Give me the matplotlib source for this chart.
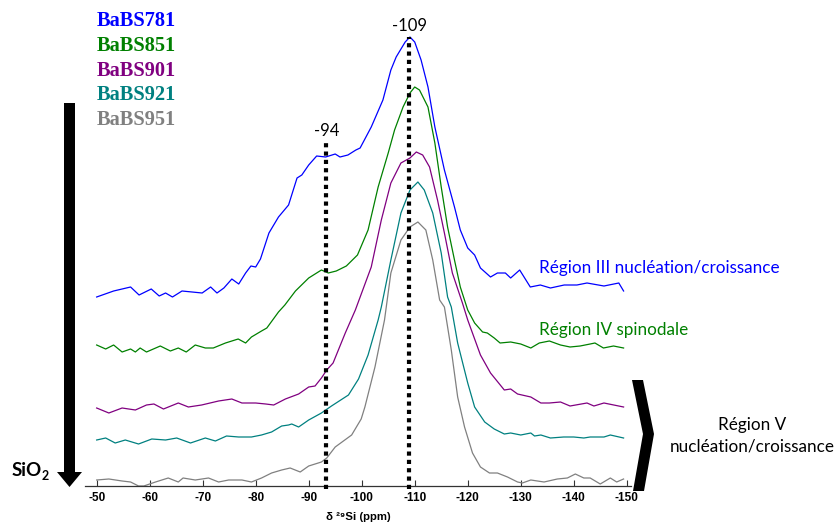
import matplotlib
matplotlib.use("Agg")
import matplotlib.pyplot as plt
from matplotlib.patches import Polygon

W, H = 837, 525

# ---------------- data (ppm, stacked intensity in arbitrary units) ----------------
ppm_781 = [-50, -53.2, -56.4, -58, -60.3, -61.8, -63, -64.3, -66.1, -68, -69.9, -71.5, -72.7, -74,
           -75.5, -76.8, -78.1, -79.1, -80, -80.9, -82.5, -84.3, -86.2, -87.8, -88.7, -90, -91.5,
           -93.2, -95, -95.9, -97.4, -98.9, -99.7, -101.8, -104, -105.5, -106.5, -108.2, -109.1,
           -110, -111.2, -112.5, -113.8, -115.6, -117.5, -118.6, -120, -121.3, -122.4, -124.3,
           -125.6, -127.1, -128.1, -129.8, -131.8, -133.7, -135.6, -138.2, -140.6, -142.5,
           -145.7, -148.5, -149.4]
int_781 = [189, 195, 199, 191, 197, 190, 193, 189, 195, 194, 193, 199, 193, 198,
           207, 202, 213, 220, 219, 227, 253, 269, 281, 308, 311, 321, 330,
           329, 332, 329, 331, 336, 338, 359, 386, 416, 429, 444, 449,
           444, 426, 399, 359, 316, 279, 256, 238, 231, 218, 209,
           213, 213, 208, 216, 199, 201, 198, 201, 201, 203,
           200, 203, 195]

ppm_851 = [-50, -51.7, -53.2, -54.8, -56.4, -57.3, -58.2, -59.4, -62, -63.9, -65.4, -66.9, -68.6,
           -70.5, -72, -74.3, -76.7, -78.1, -79.2, -81.1, -82.1, -84.3, -85.5, -87.5, -90, -92.4,
           -93.7, -95.2, -97.1, -99.2, -101.2, -103.1, -105, -106.2, -107.8, -109.1, -110, -110.9,
           -112.5, -113.8, -115, -116.2, -117.5, -118.6, -120, -121.3, -122.8, -123.7, -125,
           -126.1, -128.1, -130, -131.9, -133.5, -135.4, -137.5, -139.3, -141.2, -143.1, -144,
           -145.6, -147.5, -149.4]
int_851 = [141, 137, 141, 134, 137, 134, 138, 134, 140, 135, 138, 134, 141,
           138, 138, 143, 147, 143, 149, 155, 158, 174, 181, 195, 208, 216,
           213, 215, 220, 231, 256, 299, 333, 356, 379, 393, 399, 396,
           379, 343, 299, 259, 226, 199, 176, 163, 154, 153, 148,
           143, 144, 142, 138, 143, 145, 141, 139, 140, 142, 143,
           138, 140, 138]

ppm_901 = [-50, -52.3, -54.8, -57.3, -59.4, -60.8, -62.6, -65.4, -67.3, -69.8, -73, -75.5, -77.4,
           -80, -81.9, -83.4, -85.6, -88.1, -90, -91.2, -92.4, -93.4, -94.6, -96.9, -98.8,
           -101.8, -103.7, -105.5, -107.4, -109.1, -110.3, -111.5, -112.8, -114.3, -115.6, -117.1,
           -119, -120, -122.4, -124.3, -126.9, -128.1, -129.4, -131.9, -133.8, -135.4, -137.5,
           -139.3, -142.5, -143.8, -145.7, -149.4]
int_901 = [78, 73, 78, 76, 81, 82, 77, 83, 79, 81, 85, 87, 83,
           83, 82, 81, 87, 92, 99, 100, 108, 116, 123, 153, 176,
           219, 266, 303, 323, 328, 334, 331, 319, 286, 253, 213,
           183, 166, 131, 113, 96, 97, 92, 89, 83, 83, 84,
           80, 83, 80, 83, 79]

ppm_921 = [-50, -51.7, -53.5, -55.4, -57.9, -60.4, -63, -65.1, -67.7, -70.5, -72.4, -74.5, -76.8,
           -79.2, -81.1, -83, -84.9, -86.2, -86.8, -88.1, -90, -92.4, -94.3, -97.5, -99.4,
           -101.2, -103.1, -103.7, -105.5, -107.4, -109.1, -110.6, -111.8, -113.4, -115, -116.2,
           -116.9, -118.1, -120, -121.3, -123.2, -125, -126.9, -128.1, -130, -131.9, -132.6,
           -133.8, -135.6, -138.1, -140, -141.9, -143.1, -145.7, -146.9, -149.4]
int_921 = [46, 48, 43, 46, 42, 47, 46, 48, 43, 48, 45, 50, 49,
           49, 51, 54, 60, 61, 62, 59, 66, 73, 80, 91, 107,
           131, 166, 179, 226, 273, 296, 304, 296, 273, 233, 189,
           179, 143, 103, 79, 64, 57, 52, 53, 51, 53, 50,
           51, 48, 49, 49, 48, 49, 49, 51, 48]

ppm_951 = [-50, -52.3, -54.8, -56.4, -57.9, -58.9, -61.1, -63.5, -65.4, -66.3, -68.6, -71.1, -73,
           -74.9, -77.4, -79.2, -81.1, -83, -84.9, -86.5, -88.4, -90, -92.4, -93.4, -95, -98.1,
           -99.9, -100.6, -102.5, -104.3, -105.5, -107.4, -109.1, -110.6, -112.1, -113.4, -114.7,
           -115.6, -116.9, -118.1, -119.4, -120.9, -122.4, -124.1, -125.6, -127.5, -129.4, -130.3,
           -131.9, -134.4, -136.9, -138.8, -140.3, -141.9, -143.1, -145, -146.9, -148.1, -149.4]
int_951 = [6, 7, 5, 4, 0, 0, 4, 8, 4, 8, 6, 8, 4,
           6, 6, 4, 8, 13, 16, 18, 14, 20, 24, 28, 39, 51,
           67, 79, 119, 166, 213, 246, 259, 264, 256, 226, 186,
           179, 136, 89, 59, 33, 19, 13, 13, 9, 4, 3,
           6, 4, 7, 8, 12, 8, 8, 2, 8, 4, 7]

series_names = ["BaBS781", "BaBS851", "BaBS901", "BaBS921", "BaBS951"]
series_colors = ["#0000FF", "#008000", "#800080", "#008080", "#808080"]
series_ppm = [ppm_781, ppm_851, ppm_901, ppm_921, ppm_951]
series_int = [int_781, int_851, int_901, int_921, int_951]

marker_ppm = [-93.2, -109]
marker_labels = ["-94", "-109"]
marker_top = [346, 449]

xticks = list(range(-50, -151, -10))

# ---------------- figure ----------------
fig = plt.figure(figsize=(W / 100, H / 100), dpi=100)
ax_left, ax_right, ax_bottom_px = 85, 631, 486
ax = fig.add_axes([ax_left / W, (H - ax_bottom_px) / H, (ax_right - ax_left) / W, ax_bottom_px / H])
ax.set_xlim(-47.8, -150.8)
ax.set_ylim(0, 486)

for p, v, c in zip(series_ppm, series_int, series_colors):
    ax.plot(p, v, color=c, lw=0.9, clip_on=False, zorder=2, solid_joinstyle="round")

for xp, top in zip(marker_ppm, marker_top):
    ax.plot([xp, xp], [-3, top], color="black", lw=3.0, linestyle=(0, (1, 1)),
            solid_capstyle="butt", dash_capstyle="butt", clip_on=False, zorder=3)

for sp in ["left", "right", "top"]:
    ax.spines[sp].set_visible(False)
ax.spines["bottom"].set_color("#333333")
ax.spines["bottom"].set_linewidth(0.9)
ax.set_yticks([])
ax.set_xticks(xticks)
ax.set_xticklabels([str(t) for t in xticks], fontsize=8.5, fontweight="bold", family="Liberation Sans")
ax.tick_params(axis="x", direction="in", length=4, width=0.8, pad=4, color="#333333")
ax.set_xlabel("δ ²⁹Si (ppm)", fontsize=8.2, fontweight="bold",
              family=["Liberation Sans", "DejaVu Sans"], labelpad=6)


def ftext(x, y, s, **kw):
    fig.text(x / W, 1 - y / H, s, **kw)


# legend names
for i, (n, c) in enumerate(zip(series_names, series_colors)):
    ftext(97, 21 + 24.8 * i, n, color=c, fontsize=14.7, fontweight="bold",
          family="Liberation Serif", va="center", ha="left")

# marker labels
ftext(410, 26, marker_labels[1], fontsize=12, family="Lato", ha="center", va="center")
ftext(327, 131, marker_labels[0], fontsize=12, family="Lato", ha="center", va="center")

# region labels
ftext(539, 268, "Région III nucléation/croissance", color="#0000FF", fontsize=12.3,
      family="Lato", ha="left", va="center")
ftext(539, 330, "Région IV spinodale", color="#008000", fontsize=12.3,
      family="Lato", ha="left", va="center")
ftext(752, 425, "Région V", color="black", fontsize=12.3, family="Lato", ha="center", va="center")
ftext(752, 447, "nucléation/croissance", color="black", fontsize=12.3, family="Lato",
      ha="center", va="center")

# SiO2 label
ftext(12, 471, "SiO", fontsize=13.5, fontweight="bold", family="Lato", ha="left", va="center")
ftext(41.5, 476, "2", fontsize=9, fontweight="bold", family="Lato", ha="left", va="center")


def px_poly(points, **kw):
    pts = [(x / W, 1 - y / H) for x, y in points]
    fig.add_artist(Polygon(pts, closed=True, transform=fig.transFigure, **kw))


# big down arrow
px_poly([(64, 103), (75, 103), (75, 472), (82, 472), (69.5, 487), (57, 472), (64, 472)],
        facecolor="black", edgecolor="black", lw=0)

# chevron on right
px_poly([(632, 380), (643, 380), (654, 434), (644, 491), (633, 491), (643, 434)],
        facecolor="black", edgecolor="black", lw=0)

fig.savefig("out.png", dpi=100)
